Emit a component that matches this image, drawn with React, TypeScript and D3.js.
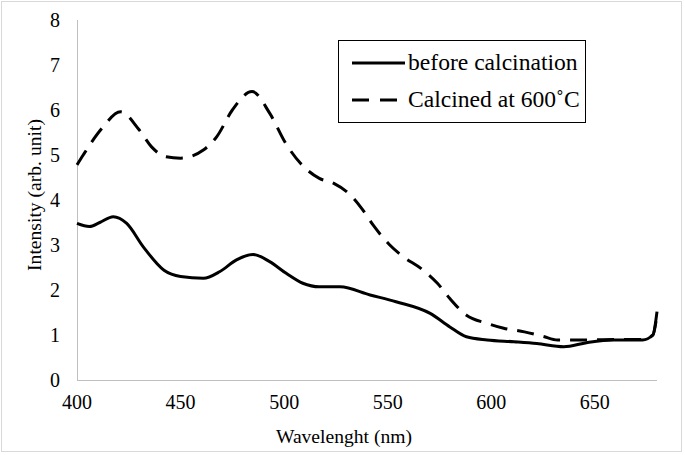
import React from "react";
import * as d3 from "d3";

const xTicks = [400, 450, 500, 550, 600, 650];
const yTicks = [0, 1, 2, 3, 4, 5, 6, 7, 8];

const beforeNm = [400, 406, 411, 417.5, 424, 432, 442, 450, 461, 469, 477, 485, 493, 501, 509, 517, 527, 541.5, 554, 570.5, 580, 588, 598, 611, 622, 635, 646, 659, 673, 678, 680];
const beforeVal = [3.48, 3.41, 3.5, 3.63, 3.48, 2.96, 2.44, 2.3, 2.26, 2.41, 2.67, 2.79, 2.63, 2.37, 2.15, 2.07, 2.07, 1.89, 1.74, 1.48, 1.18, 0.96, 0.89, 0.85, 0.81, 0.74, 0.83, 0.89, 0.89, 1.0, 1.52];

const calcNm = [400, 403, 412, 421, 430, 436, 443, 450, 461, 467.5, 475, 484.5, 493, 501, 508, 517, 524, 532, 537.5, 543, 551, 557.5, 566, 574, 580, 588, 598, 606, 616, 625, 632, 643, 659, 673, 678, 680];
const calcVal = [4.78, 5.0, 5.59, 5.96, 5.56, 5.18, 4.96, 4.93, 5.11, 5.41, 6.0, 6.41, 5.93, 5.24, 4.81, 4.48, 4.37, 4.11, 3.81, 3.44, 3.0, 2.74, 2.48, 2.15, 1.81, 1.44, 1.26, 1.15, 1.07, 0.97, 0.89, 0.89, 0.9, 0.9, 1.0, 1.45];

const legendLabels = ["before calcination", "Calcined at 600\u02DAC"];

const W = 685, H = 455;
const FONT = "'Liberation Serif', 'Times New Roman', serif";

export default function App() {
  const x = d3.scaleLinear().domain([400, 680]).range([77, 657]);
  const y = d3.scaleLinear().domain([0, 8]).range([380, 20]);
  const line = d3
    .line<[number, number]>()
    .x((d) => x(d[0]))
    .y((d) => y(d[1]))
    .curve(d3.curveMonotoneX);
  const before = beforeNm.map((n, i) => [n, beforeVal[i]] as [number, number]);
  const calc = calcNm.map((n, i) => [n, calcVal[i]] as [number, number]);
  const dash = "17 10";
  return (
    <div style={{ position: "fixed", left: 0, top: 0 }}>
      <svg width={W} height={H} style={{ display: "block", background: "#fff" }}>
        <rect x={1.5} y={1.5} width={680} height={450} fill="#fff" stroke="#d9d9d9" strokeWidth={1} />
        <line x1={x(400)} x2={x(680)} y1={y(0) + 0.5} y2={y(0) + 0.5} stroke="#bfbfbf" strokeWidth={1} />
        <line x1={x(400) + 0.5} x2={x(400) + 0.5} y1={y(8)} y2={y(0)} stroke="#bfbfbf" strokeWidth={1} />
        {yTicks.map((t) => (
          <text key={"y" + t} x={60} y={y(t) + 7} textAnchor="end" fontFamily={FONT} fontSize={20} fill="#000">
            {t}
          </text>
        ))}
        {xTicks.map((t) => (
          <text key={"x" + t} x={x(t)} y={409} textAnchor="middle" fontFamily={FONT} fontSize={20} fill="#000">
            {t}
          </text>
        ))}
        <text x={344} y={443} textAnchor="middle" fontFamily={FONT} fontSize={19.6} fill="#000">
          Wavelenght (nm)
        </text>
        <text
          transform={`translate(41,195) rotate(-90)`}
          textAnchor="middle"
          fontFamily={FONT}
          fontSize={19.6}
          fill="#000"
        >
          Intensity (arb. unit)
        </text>
        <path d={line(before) || ""} fill="none" stroke="#000" strokeWidth={3} strokeLinejoin="round" />
        <path d={line(calc) || ""} fill="none" stroke="#000" strokeWidth={3} strokeDasharray={dash} strokeLinejoin="round" />
        <rect x={338.5} y={40.5} width={247} height={82} fill="#fff" stroke="#000" strokeWidth={1} />
        <line x1={352} x2={405} y1={63} y2={63} stroke="#000" strokeWidth={3} />
        <line x1={352} x2={405} y1={100} y2={100} stroke="#000" strokeWidth={3} strokeDasharray="17 11" />
        <text x={408} y={70} fontFamily={FONT} fontSize={23.6} fill="#000">
          {legendLabels[0]}
        </text>
        <text x={408} y={107} fontFamily={FONT} fontSize={23.6} fill="#000">
          {legendLabels[1]}
        </text>
      </svg>
    </div>
  );
}
